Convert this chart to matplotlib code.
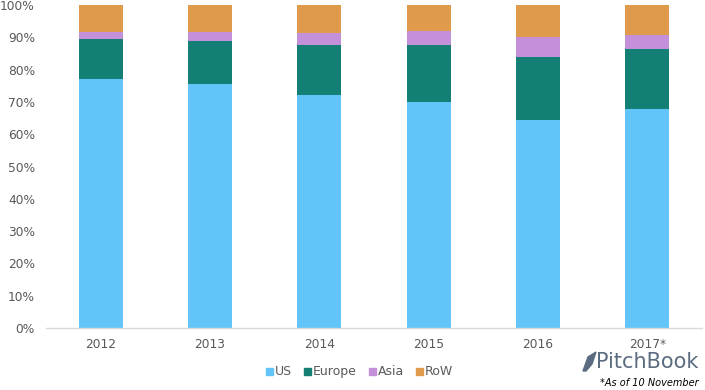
import matplotlib
matplotlib.use("Agg")
import matplotlib.pyplot as plt
import numpy as np
from matplotlib.ticker import PercentFormatter
from matplotlib.patches import Polygon, Rectangle

years = ["2012", "2013", "2014", "2015", "2016", "2017*"]
series = ["US", "Europe", "Asia", "RoW"]
us = [77.1, 75.5, 72.1, 70.0, 64.4, 67.8]
europe = [12.4, 13.4, 15.5, 17.6, 19.5, 18.6]
asia = [2.2, 2.8, 3.6, 4.2, 6.2, 4.3]
row = [8.3, 8.3, 8.8, 8.2, 9.9, 9.3]
colors = ["#62C4F8", "#147F75", "#C490DA", "#DF9A4C"]

text_gray = "#595959"
plt.rcParams["font.family"] = ["DejaVu Sans"]

W, H = 705, 390
fig = plt.figure(figsize=(W / 100, H / 100), dpi=100)
ax = fig.add_axes([46 / W, 62 / H, 656 / W, 323 / H])

x = np.arange(len(years))
bottom = np.zeros(len(years))
for name, vals, c in zip(series, [us, europe, asia, row], colors):
    ax.bar(x, vals, bottom=bottom, width=0.40, color=c, label=name, zorder=2)
    bottom += np.array(vals)

ax.set_xlim(-0.5, 5.5)
ax.set_ylim(0, 100)
ax.set_yticks(np.arange(0, 101, 10))
ax.yaxis.set_major_formatter(PercentFormatter(decimals=0))
ax.set_xticks(x)
ax.set_xticklabels(years)
ax.tick_params(axis="both", length=0, colors=text_gray, labelsize=8.8)
ax.tick_params(axis="x", pad=7)
ax.tick_params(axis="y", pad=8)
for side in ("top", "right", "left"):
    ax.spines[side].set_visible(False)
ax.spines["bottom"].set_color("#D9D9D9")
ax.spines["bottom"].set_linewidth(1.0)

# legend drawn by hand so the labels share one baseline
renderer = fig.canvas.get_renderer()
px = 266
y_mid = 371
for name, c in zip(series, colors):
    fig.patches.append(Rectangle((px / W, 1 - (y_mid + 3.5) / H), 7 / W, 7 / H,
                                 transform=fig.transFigure, color=c))
    t = fig.text((px + 9) / W, 1 - (y_mid + 4) / H, name, fontsize=9,
                 color=text_gray, ha="left", va="baseline")
    px = t.get_window_extent(renderer).x1 + 12

# PitchBook logo (text plus a simple feather mark)
logo_color = "#5B6C80"
fig.text(596 / W, 1 - 362 / H, "PitchBook", fontsize=15, color=logo_color,
         ha="left", va="center")
feather = Polygon(
    [(583 / W, 1 - 371 / H), (588 / W, 1 - 357 / H), (596 / W, 1 - 352 / H),
     (592 / W, 1 - 364 / H), (586 / W, 1 - 371 / H)],
    closed=True, transform=fig.transFigure, color=logo_color,
)
fig.patches.append(feather)
fig.text(699 / W, 1 - 383 / H, "*As of 10 November", fontsize=7, style="italic",
         color="black", ha="right", va="center")

fig.savefig("out.png", dpi=100)
